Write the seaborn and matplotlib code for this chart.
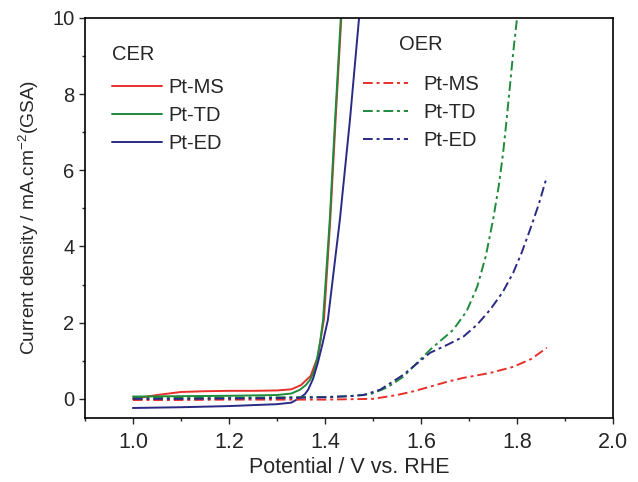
import numpy as np
import pandas as pd
import matplotlib
matplotlib.use('Agg')
import matplotlib.pyplot as plt
import seaborn as sns
from matplotlib.lines import Line2D
from matplotlib.ticker import MultipleLocator

# CER curves (solid)
cer_ms_x = [1.0, 1.05, 1.1, 1.15, 1.2, 1.25, 1.3, 1.33, 1.35, 1.37, 1.385, 1.398, 1.411, 1.422, 1.434, 1.437]
cer_ms_y = [0.0, 0.1, 0.18, 0.2, 0.21, 0.21, 0.22, 0.25, 0.36, 0.6, 1.1, 2.1, 4.7, 7.3, 10.0, 10.6]
cer_td_x = [1.0, 1.1, 1.2, 1.3, 1.33, 1.348, 1.36, 1.369, 1.377, 1.383, 1.39, 1.396, 1.41, 1.421, 1.433, 1.436]
cer_td_y = [0.06, 0.07, 0.08, 0.1, 0.14, 0.24, 0.36, 0.5, 0.72, 1.02, 1.5, 2.07, 4.7, 7.32, 10.0, 10.6]
cer_ed_x = [1.0, 1.05, 1.1, 1.2, 1.3, 1.33, 1.348, 1.358, 1.365, 1.375, 1.385, 1.395, 1.406, 1.431, 1.452, 1.471, 1.475]
cer_ed_y = [-0.24, -0.23, -0.22, -0.19, -0.14, -0.1, 0.03, 0.12, 0.24, 0.52, 0.94, 1.45, 2.07, 4.7, 7.32, 10.0, 10.6]

# OER curves (dash-dot)
oer_ms_x = [1.0, 1.1, 1.2, 1.3, 1.4, 1.45, 1.5, 1.515, 1.55, 1.585, 1.619, 1.655, 1.688, 1.744, 1.792, 1.83, 1.862]
oer_ms_y = [-0.03, -0.03, -0.02, -0.02, -0.02, -0.01, 0.0, 0.03, 0.1, 0.2, 0.32, 0.45, 0.55, 0.68, 0.84, 1.05, 1.34]
oer_td_x = [1.0, 1.1, 1.2, 1.3, 1.4, 1.45, 1.494, 1.53, 1.563, 1.619, 1.667, 1.695, 1.717, 1.735, 1.75, 1.762, 1.771, 1.778, 1.785, 1.792, 1.8, 1.803]
oer_td_y = [0.03, 0.03, 0.03, 0.04, 0.05, 0.07, 0.12, 0.3, 0.58, 1.29, 1.81, 2.3, 2.94, 3.75, 4.7, 5.6, 6.46, 7.3, 8.19, 9.1, 10.0, 10.5]
oer_ed_x = [1.0, 1.1, 1.2, 1.3, 1.4, 1.45, 1.48, 1.515, 1.563, 1.619, 1.655, 1.688, 1.717, 1.744, 1.77, 1.792, 1.81, 1.827, 1.845, 1.862]
oer_ed_y = [0.0, 0.0, 0.01, 0.02, 0.04, 0.07, 0.1, 0.24, 0.63, 1.21, 1.42, 1.63, 1.95, 2.34, 2.8, 3.31, 3.85, 4.44, 5.1, 5.83]

labels = ['Pt-MS', 'Pt-TD', 'Pt-ED']
colors = ['#e8302a', '#1f8a3c', '#2a2a85']

sns.set_style('ticks')
plt.rcParams['font.family'] = ['Liberation Sans', 'DejaVu Sans']
plt.rcParams['mathtext.default'] = 'regular'

fig, ax = plt.subplots(figsize=(6.38, 4.82), dpi=100)
fig.subplots_adjust(left=0.133, right=0.961, top=0.963, bottom=0.133)

cer = [(cer_ms_x, cer_ms_y), (cer_td_x, cer_td_y), (cer_ed_x, cer_ed_y)]
oer = [(oer_ms_x, oer_ms_y), (oer_td_x, oer_td_y), (oer_ed_x, oer_ed_y)]
dashdot = (5, 2, 1.5, 2)

for (x, y), c in zip(cer, colors):
    sns.lineplot(x=x, y=y, ax=ax, color=c, lw=1.4, sort=False)
for (x, y), c in zip(oer, colors):
    line = sns.lineplot(x=x, y=y, ax=ax, color=c, lw=1.4, sort=False).lines[-1]
    line.set_dashes(dashdot)

ax.set_xlim(0.9, 2.0)
ax.set_ylim(-0.5, 10)
ax.xaxis.set_major_locator(MultipleLocator(0.2))
ax.xaxis.set_minor_locator(MultipleLocator(0.1))
ax.yaxis.set_major_locator(MultipleLocator(2))
ax.yaxis.set_minor_locator(MultipleLocator(1))
ax.tick_params(which='major', direction='out', length=4, width=1)
ax.tick_params(which='minor', direction='out', length=2.5, width=1)
ax.tick_params(axis='x', labelsize=15.5, pad=6)
ax.tick_params(axis='y', labelsize=14.5)
for s in ax.spines.values():
    s.set_linewidth(1.2)
    s.set_color('black')

ax.set_xlabel('Potential / V vs. RHE', fontsize=15.5, labelpad=3)
ax.set_ylabel('Current density / mA.cm$^{-2}$(GSA)', fontsize=13.8, labelpad=8)

cer_handles = [Line2D([], [], color=c, lw=1.4) for c in colors]
oer_handles = [Line2D([], [], color=c, lw=1.4, dashes=dashdot) for c in colors]

ax.text(0.051, 0.9075, 'CER', transform=ax.transAxes, fontsize=14.5,
        ha='left', va='center')
ax.text(0.636, 0.9325, 'OER', transform=ax.transAxes, fontsize=14.5,
        ha='center', va='center')

leg1 = ax.legend(cer_handles, labels, loc='upper left',
                 bbox_to_anchor=(0.051, 0.85), frameon=False, fontsize=14.5,
                 borderpad=0, borderaxespad=0, handlelength=2.5,
                 handletextpad=0.3, labelspacing=0.45)
ax.add_artist(leg1)
ax.legend(oer_handles, labels, loc='upper left',
          bbox_to_anchor=(0.5265, 0.857), frameon=False, fontsize=14.5,
          borderpad=0, borderaxespad=0, handlelength=2.23,
          handletextpad=0.75, labelspacing=0.45)

plt.savefig('out.png', dpi=100)
